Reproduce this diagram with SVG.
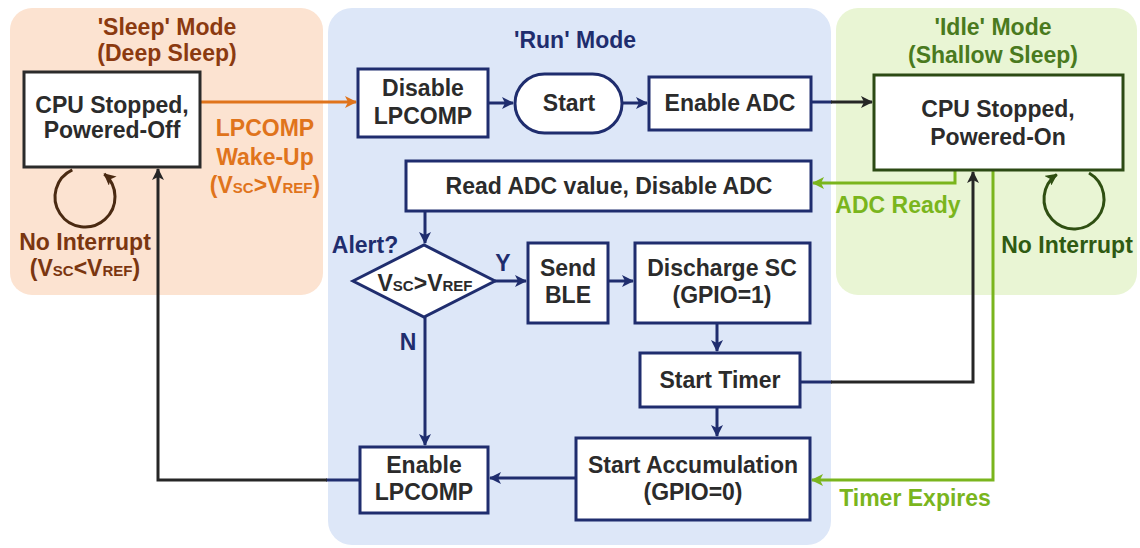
<svg xmlns="http://www.w3.org/2000/svg" width="1140" height="548" viewBox="0 0 1140 548">
<defs>
<style>
text{font-family:"Liberation Sans",Arial,sans-serif;font-weight:bold;font-size:23px;text-anchor:middle}
.t{fill:#2b2b2b}
.box{fill:#fff;stroke:#1f2d6e;stroke-width:3}
.c{fill:none;stroke-width:3}
.navy{stroke:#1f2d6e}
.blk{stroke:#262626}
.org{stroke:#e0741c}
.grn{stroke:#7ab51d}
.dgrn{stroke:#2f4f12}
.brn{stroke:#4a2a12}
.sm{font-size:15px}
</style>
<marker id="aN" markerWidth="12" markerHeight="12" refX="11" refY="6" orient="auto" markerUnits="userSpaceOnUse"><path d="M0,0 L12,6 L0,12 L3,6 Z" fill="#1f2d6e"/></marker>
<marker id="aK" markerWidth="12" markerHeight="12" refX="11" refY="6" orient="auto" markerUnits="userSpaceOnUse"><path d="M0,0 L12,6 L0,12 L3,6 Z" fill="#262626"/></marker>
<marker id="aO" markerWidth="12" markerHeight="12" refX="11" refY="6" orient="auto" markerUnits="userSpaceOnUse"><path d="M0,0 L12,6 L0,12 L3,6 Z" fill="#e0741c"/></marker>
<marker id="aG" markerWidth="12" markerHeight="12" refX="11" refY="6" orient="auto" markerUnits="userSpaceOnUse"><path d="M0,0 L12,6 L0,12 L3,6 Z" fill="#7ab51d"/></marker>
<marker id="aD" markerWidth="12" markerHeight="12" refX="11" refY="6" orient="auto" markerUnits="userSpaceOnUse"><path d="M0,0 L12,6 L0,12 L3,6 Z" fill="#2f4f12"/></marker>
<marker id="aB" markerWidth="12" markerHeight="12" refX="11" refY="6" orient="auto" markerUnits="userSpaceOnUse"><path d="M0,0 L12,6 L0,12 L3,6 Z" fill="#4a2a12"/></marker>
</defs>
<rect width="1140" height="548" fill="#fff"/>
<g id="panels">
<rect x="10" y="8" width="313" height="287" rx="22" fill="#fce3d1"/>
<rect x="328" y="8" width="503" height="537" rx="24" fill="#dde7f8"/>
<rect x="836" y="8" width="301" height="287" rx="22" fill="#e9f5d4"/>
<text x="167" y="35" fill="#8b3a10">'Sleep'  Mode</text>
<text x="167" y="61" fill="#8b3a10">(Deep Sleep)</text>
<text x="575" y="48" fill="#1f2d6e">'Run' Mode</text>
<text x="993" y="35" fill="#4a7a1e">'Idle' Mode</text>
<text x="993" y="63" fill="#4a7a1e">(Shallow Sleep)</text>
</g>
<g id="connectors">
<path class="c org" d="M200,102 H356" marker-end="url(#aO)"/>
<path class="c navy" d="M488,103 H513" marker-end="url(#aN)"/>
<path class="c navy" d="M622,103 H647" marker-end="url(#aN)"/>
<path class="c navy" d="M811,102 H832"/>
<path class="c blk" d="M831,102 H872" marker-end="url(#aK)"/>
<path class="c grn" d="M955,170 V183 H813" marker-end="url(#aG)"/>
<path class="c navy" d="M425,211 V243" marker-end="url(#aN)"/>
<path class="c navy" d="M495,281 H526" marker-end="url(#aN)"/>
<path class="c navy" d="M608,281 H633" marker-end="url(#aN)"/>
<path class="c navy" d="M717,323 V351" marker-end="url(#aN)"/>
<path class="c navy" d="M717,407 V436" marker-end="url(#aN)"/>
<path class="c navy" d="M800,382 H832"/>
<path class="c blk" d="M831,382 H973 V172" marker-end="url(#aK)"/>
<path class="c grn" d="M993,170 V480 H812" marker-end="url(#aG)"/>
<path class="c navy" d="M425,317 V445" marker-end="url(#aN)"/>
<path class="c navy" d="M576,478 H490" marker-end="url(#aN)"/>
<path class="c navy" d="M360,480 H326"/>
<path class="c blk" d="M327,480 H158 V169" marker-end="url(#aK)"/>
<path class="c brn" d="M72.3,169.8 A30,30 0 1 0 104.3,174" marker-end="url(#aB)"/>
<path class="c dgrn" d="M1089,173 A30,30 0 1 1 1056.8,174.4" marker-end="url(#aD)"/>
<text x="265" y="136" fill="#e0741c">LPCOMP</text>
<text x="265" y="165" fill="#e0741c">Wake-Up</text>
<text x="265" y="193" fill="#e0741c">(V<tspan class="sm">SC</tspan>&gt;V<tspan class="sm">REF</tspan>)</text>
<text x="85" y="250" fill="#7a3610">No Interrupt</text>
<text x="85" y="276" fill="#7a3610">(V<tspan class="sm">SC</tspan>&lt;V<tspan class="sm">REF</tspan>)</text>
<text x="898" y="213" fill="#7ab51d">ADC Ready</text>
<text x="1067" y="253" fill="#2f5a12">No Interrupt</text>
<text x="365" y="253" fill="#1f2d6e">Alert?</text>
<text x="503" y="271" fill="#1f2d6e">Y</text>
<text x="408" y="350" fill="#1f2d6e">N</text>
<text x="915" y="506" fill="#7ab51d">Timer Expires</text>
</g>
<g id="sleep-cpu">
<rect x="24" y="72" width="176" height="95" fill="#fff" stroke="#2b2b2b" stroke-width="3"/>
<text class="t" x="112" y="113">CPU Stopped,</text>
<text class="t" x="112" y="138">Powered-Off</text>
</g>
<g id="disable-lpcomp">
<rect class="box" x="358" y="69" width="130" height="68"/>
<text class="t" x="423" y="96">Disable</text>
<text class="t" x="423" y="124">LPCOMP</text>
</g>
<g id="start">
<rect class="box" x="515" y="74" width="107" height="59" rx="29.5"/>
<text class="t" x="569" y="111">Start</text>
</g>
<g id="enable-adc">
<rect class="box" x="649" y="77" width="162" height="53"/>
<text class="t" x="730" y="111">Enable ADC</text>
</g>
<g id="idle-cpu">
<rect x="874" y="75" width="249" height="95" fill="#fff" stroke="#2c4a14" stroke-width="3"/>
<text class="t" x="998" y="117">CPU Stopped,</text>
<text class="t" x="998" y="145">Powered-On</text>
</g>
<g id="read-adc">
<rect class="box" x="406" y="161" width="405" height="50"/>
<text class="t" x="609" y="194">Read ADC value, Disable ADC</text>
</g>
<g id="alert">
<path class="box" d="M353,281 L424,245 L495,281 L424,317 Z"/>
<text class="t" x="425" y="291">V<tspan class="sm">SC</tspan>&gt;V<tspan class="sm">REF</tspan></text>
</g>
<g id="send-ble">
<rect class="box" x="528" y="243" width="80" height="80"/>
<text class="t" x="568" y="276">Send</text>
<text class="t" x="568" y="303">BLE</text>
</g>
<g id="discharge">
<rect class="box" x="635" y="243" width="175" height="80"/>
<text class="t" x="722" y="276">Discharge SC</text>
<text class="t" x="722" y="303">(GPIO=1)</text>
</g>
<g id="start-timer">
<rect class="box" x="640" y="353" width="160" height="54"/>
<text class="t" x="720" y="388">Start Timer</text>
</g>
<g id="start-accum">
<rect class="box" x="576" y="438" width="234" height="82"/>
<text class="t" x="693" y="473">Start Accumulation</text>
<text class="t" x="693" y="500">(GPIO=0)</text>
</g>
<g id="enable-lpcomp">
<rect class="box" x="360" y="447" width="128" height="66"/>
<text class="t" x="424" y="473">Enable</text>
<text class="t" x="424" y="500">LPCOMP</text>
</g>
</svg>
